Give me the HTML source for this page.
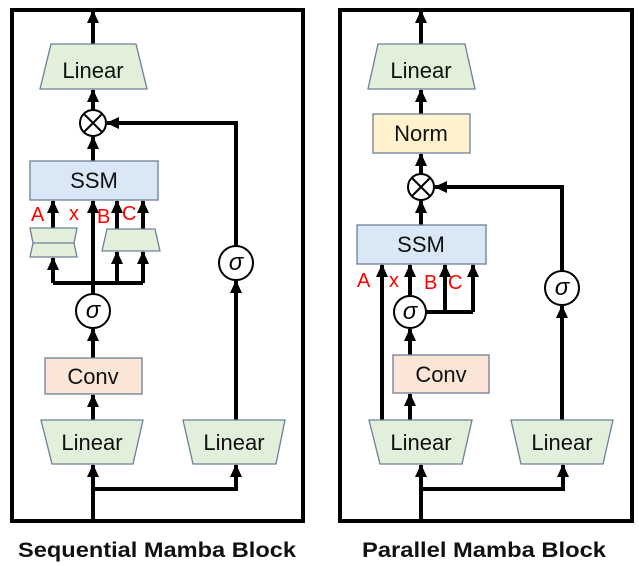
<!DOCTYPE html>
<html><head><style>
html,body{margin:0;padding:0;background:#fff;}
svg{display:block;}
text{font-family:"Liberation Sans","DejaVu Sans",sans-serif;}
</style></head><body>
<svg width="639" height="566" viewBox="0 0 639 566" xmlns="http://www.w3.org/2000/svg">
<defs>
<marker id="a" markerUnits="userSpaceOnUse" markerWidth="14" markerHeight="14" refX="12" refY="7" orient="auto">
<path d="M0,1 L13,7 L0,13 Z" fill="#000"/>
</marker>
</defs>
<g fill="none" stroke="#000" stroke-width="4">
<rect x="12" y="10" width="291" height="511"/>
<rect x="340" y="10" width="292" height="511"/>
</g>
<!-- LEFT PANEL lines -->
<g stroke="#000" stroke-width="4" fill="none">
<line x1="93" y1="44" x2="93" y2="11" marker-end="url(#a)"/>
<line x1="93" y1="161" x2="93" y2="137" marker-end="url(#a)"/>
<line x1="93" y1="110" x2="93" y2="90" marker-end="url(#a)"/>
<polyline points="236,246 236,123 107,123" marker-end="url(#a)"/>
<line x1="236" y1="420" x2="236" y2="281" marker-end="url(#a)"/>
<line x1="93" y1="294" x2="93" y2="201" marker-end="url(#a)"/>
<line x1="53" y1="228" x2="53" y2="201" marker-end="url(#a)"/>
<line x1="117" y1="229" x2="117" y2="201" marker-end="url(#a)"/>
<line x1="143" y1="229" x2="143" y2="201" marker-end="url(#a)"/>
<polyline points="53,283 143,283"/>
<line x1="53" y1="283" x2="53" y2="258" marker-end="url(#a)"/>
<line x1="117" y1="283" x2="117" y2="252" marker-end="url(#a)"/>
<line x1="143" y1="283" x2="143" y2="252" marker-end="url(#a)"/>
<line x1="93" y1="358" x2="93" y2="329" marker-end="url(#a)"/>
<line x1="93" y1="420" x2="93" y2="395" marker-end="url(#a)"/>
<line x1="93" y1="521" x2="93" y2="465" marker-end="url(#a)"/>
<polyline points="93,489 236,489 236,465" marker-end="url(#a)"/>
</g>
<!-- RIGHT PANEL lines -->
<g stroke="#000" stroke-width="4" fill="none">
<line x1="421" y1="44" x2="421" y2="11" marker-end="url(#a)"/>
<line x1="421" y1="114" x2="421" y2="90" marker-end="url(#a)"/>
<line x1="421" y1="174" x2="421" y2="154" marker-end="url(#a)"/>
<line x1="421" y1="225" x2="421" y2="201" marker-end="url(#a)"/>
<polyline points="562,271 562,187 435,187" marker-end="url(#a)"/>
<line x1="562" y1="420" x2="562" y2="306" marker-end="url(#a)"/>
<line x1="382" y1="420" x2="382" y2="265" marker-end="url(#a)"/>
<line x1="410" y1="296" x2="410" y2="265" marker-end="url(#a)"/>
<polyline points="426,312 473,312"/>
<line x1="445" y1="312" x2="445" y2="265" marker-end="url(#a)"/>
<line x1="473" y1="312" x2="473" y2="265" marker-end="url(#a)"/>
<line x1="410" y1="355" x2="410" y2="329" marker-end="url(#a)"/>
<line x1="410" y1="420" x2="410" y2="394" marker-end="url(#a)"/>
<line x1="421" y1="521" x2="421" y2="465" marker-end="url(#a)"/>
<polyline points="421,489 563,489 563,465" marker-end="url(#a)"/>
</g>
<g stroke="#6d7f99" stroke-width="1.3">
<polygon points="51,44 136,44 147,89 40,89" fill="#e2efda"/>
<rect x="30" y="161" width="128" height="39" fill="#dae8f5"/>
<polygon points="30,228 77,228 74,243 77,257 30,257 33,243" fill="#e2efda"/>
<line x1="33" y1="243" x2="74" y2="243"/>
<polygon points="107,229 155,229 160,251 102,251" fill="#e2efda"/>
<rect x="45" y="358" width="97" height="36" fill="#fbe5d6"/>
<polygon points="41,420 143,420 133,464 52,464" fill="#e2efda"/>
<polygon points="183,420 285,420 276,464 193,464" fill="#e2efda"/>
<polygon points="378,44 465,44 475,89 368,89" fill="#e2efda"/>
<rect x="373" y="114" width="97" height="39" fill="#fff2cc"/>
<rect x="357" y="225" width="129" height="39" fill="#dae8f5"/>
<rect x="393" y="355" width="96" height="38" fill="#fbe5d6"/>
<polygon points="369,420 472,420 462,464 380,464" fill="#e2efda"/>
<polygon points="511,420 613,420 603,464 521,464" fill="#e2efda"/>
</g>
<g fill="#fff" stroke="#000" stroke-width="2">
<circle cx="93" cy="123" r="13"/>
<circle cx="236" cy="263" r="17"/>
<circle cx="93" cy="311" r="17"/>
<circle cx="421" cy="187" r="13"/>
<circle cx="562" cy="288" r="17"/>
<circle cx="410" cy="312" r="16"/>
</g>
<g stroke="#000" stroke-width="2">
<line x1="84" y1="114" x2="102" y2="132"/><line x1="102" y1="114" x2="84" y2="132"/>
<line x1="412" y1="178" x2="430" y2="196"/><line x1="430" y1="178" x2="412" y2="196"/>
</g>
<g font-size="22" text-anchor="middle" fill="#111">
<text x="93" y="78">Linear</text>
<text x="94" y="188">SSM</text>
<text x="93" y="384">Conv</text>
<text x="92" y="450">Linear</text>
<text x="234" y="450">Linear</text>
<text x="421" y="78">Linear</text>
<text x="421" y="141">Norm</text>
<text x="421" y="252">SSM</text>
<text x="441" y="382">Conv</text>
<text x="421" y="450">Linear</text>
<text x="562" y="450">Linear</text>
</g>
<g font-size="24" font-style="italic" text-anchor="middle" fill="#000" font-family="Liberation Serif,serif">
<text x="236" y="270">σ</text><text x="93" y="318">σ</text>
<text x="562" y="295">σ</text><text x="410" y="319">σ</text>
</g>
<g font-size="20" fill="#f00">
<text x="31" y="221">A</text><text x="69" y="220">x</text>
<text x="97" y="223">B</text><text x="122" y="220">C</text>
<text x="357" y="287">A</text><text x="389" y="287">x</text>
<text x="424" y="289">B</text><text x="448" y="289">C</text>
</g>
<g font-size="21" font-weight="bold" text-anchor="middle" fill="#111">
<text x="157" y="557" textLength="278" lengthAdjust="spacingAndGlyphs">Sequential Mamba Block</text>
<text x="484" y="557" textLength="244" lengthAdjust="spacingAndGlyphs">Parallel Mamba Block</text>
</g>
</svg>
</body></html>
